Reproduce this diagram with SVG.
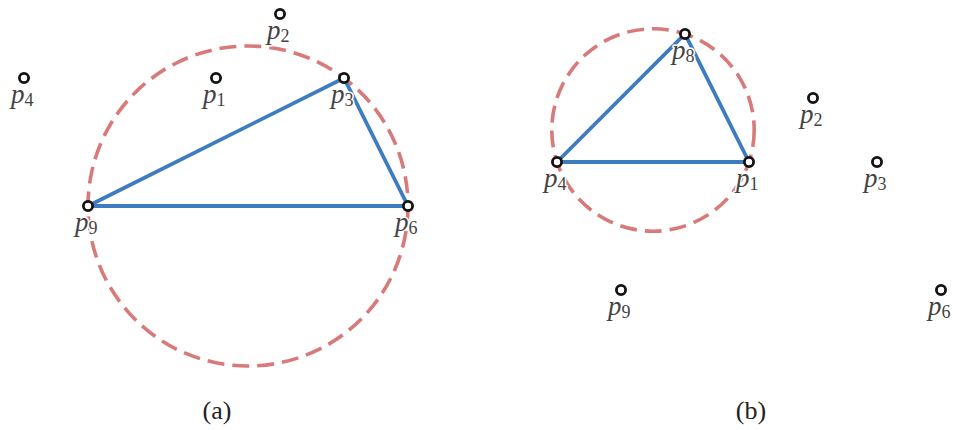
<svg xmlns="http://www.w3.org/2000/svg" width="953" height="430" viewBox="0 0 953 430">
<style>
.circ{fill:none;stroke:#d87a7a;stroke-width:3.6;stroke-dasharray:17 8}
.edge{stroke:#3d7cbf;stroke-width:3.8;stroke-linecap:round;fill:none}
.pt{fill:#ffffff;stroke:#111111;stroke-width:2.8}
.lbl{font-family:"Liberation Serif","Times New Roman","DejaVu Serif",serif;font-style:italic;font-size:27px;fill:#444444;stroke:#ffffff;stroke-width:3;paint-order:stroke;stroke-linejoin:round}
.sub{font-style:normal;font-size:18px}
.cap{font-family:"Liberation Serif","Times New Roman","DejaVu Serif",serif;font-size:26px;fill:#222222;text-anchor:middle}
</style>
<rect width="953" height="430" fill="#ffffff"/>
<g id="circles">
<circle class="circ" cx="248" cy="206" r="160"/>
<circle class="circ" cx="653" cy="130" r="101.2"/>
</g>
<g id="connectors">
<polyline class="edge" points="88,206 408,206 344,78 88,206"/>
<polyline class="edge" points="557,162 749,162 685,34 557,162"/>
</g>
<g id="panel-a">
<g id="a-p1"><circle class="pt" cx="216" cy="78" r="4.6"/><text class="lbl" x="203" y="103">p<tspan class="sub" dy="3">1</tspan></text></g>
<g id="a-p2"><circle class="pt" cx="280" cy="14" r="4.6"/><text class="lbl" x="267" y="39">p<tspan class="sub" dy="3">2</tspan></text></g>
<g id="a-p3"><circle class="pt" cx="344" cy="78" r="4.6"/><text class="lbl" x="331" y="103">p<tspan class="sub" dy="3">3</tspan></text></g>
<g id="a-p4"><circle class="pt" cx="24" cy="78" r="4.6"/><text class="lbl" x="11" y="103">p<tspan class="sub" dy="3">4</tspan></text></g>
<g id="a-p6"><circle class="pt" cx="408" cy="206" r="4.6"/><text class="lbl" x="395" y="231">p<tspan class="sub" dy="3">6</tspan></text></g>
<g id="a-p9"><circle class="pt" cx="88" cy="206" r="4.6"/><text class="lbl" x="75" y="231">p<tspan class="sub" dy="3">9</tspan></text></g>
<text class="cap" x="217" y="419">(a)</text>
</g>
<g id="panel-b">
<g id="b-p1"><circle class="pt" cx="749" cy="162" r="4.6"/><text class="lbl" x="736" y="187">p<tspan class="sub" dy="3">1</tspan></text></g>
<g id="b-p2"><circle class="pt" cx="813" cy="98" r="4.6"/><text class="lbl" x="800" y="123">p<tspan class="sub" dy="3">2</tspan></text></g>
<g id="b-p3"><circle class="pt" cx="877" cy="162" r="4.6"/><text class="lbl" x="864" y="187">p<tspan class="sub" dy="3">3</tspan></text></g>
<g id="b-p4"><circle class="pt" cx="557" cy="162" r="4.6"/><text class="lbl" x="544" y="187">p<tspan class="sub" dy="3">4</tspan></text></g>
<g id="b-p6"><circle class="pt" cx="941" cy="290" r="4.6"/><text class="lbl" x="928" y="315">p<tspan class="sub" dy="3">6</tspan></text></g>
<g id="b-p8"><circle class="pt" cx="685" cy="34" r="4.6"/><text class="lbl" x="672" y="59">p<tspan class="sub" dy="3">8</tspan></text></g>
<g id="b-p9"><circle class="pt" cx="621" cy="290" r="4.6"/><text class="lbl" x="608" y="315">p<tspan class="sub" dy="3">9</tspan></text></g>
<text class="cap" x="751" y="419">(b)</text>
</g>
</svg>
